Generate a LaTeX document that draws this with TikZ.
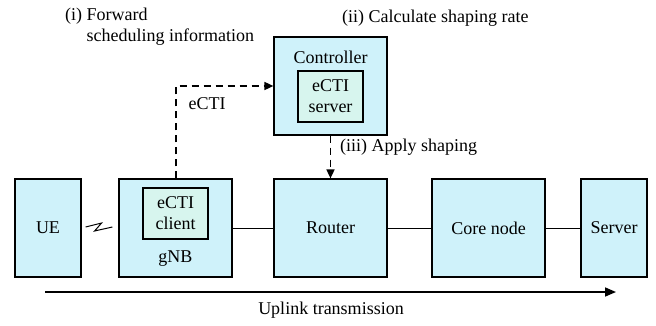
\documentclass[tikz,border=0pt]{standalone}
\usepackage{fontspec}
\setmainfont{Liberation Serif}
\usepackage{xcolor}
\usepackage{tikz}
\usetikzlibrary{arrows.meta}

\definecolor{boxfill}{RGB}{207,242,250}
\definecolor{innerfill}{RGB}{215,245,238}

\begin{document}
\begin{tikzpicture}[
  x=1pt, y=-1pt,
  every node/.style = {font=\fontsize{18}{21}\selectfont, inner sep=0pt},
  entity/.style   = {draw=black, fill=boxfill, line width=1.2pt,
                     minimum width=113pt, minimum height=98pt},
  smallent/.style = {entity, minimum width=66pt},
  inner/.style    = {draw=black, fill=innerfill, line width=1.2pt,
                     minimum width=65pt, minimum height=51pt, align=center},
  link/.style     = {line width=1pt},
  ctrlarr/.style  = {-{Triangle[length=9pt,width=8pt]}, dashed,
                     dash pattern=on 7pt off 5pt, line width=1.6pt},
  ularr/.style    = {-{Triangle[length=11pt,width=9pt]}, line width=1.6pt},
  lbl/.style      = {anchor=west, align=left},
]
\useasboundingbox (0,0) rectangle (656,326);

%% ── Data path boxes ───────────────────────────────────────────────
\node[smallent] (ue)     at (48,228)    {UE};
\node[entity]   (gnb)    at (175.5,228) {};
\node[inner]    (client) at (175.5,213.5) {eCTI\\client};
\node                    at (175.5,259) {gNB};
\node[entity]   (router) at (330.5,228) {Router};
\node[entity]   (core)   at (488.5,228) {Core node};
\node[smallent] (server) at (614,228)   {Server};

%% ── Controller ────────────────────────────────────────────────────
\node[entity]   (ctrl)   at (330.5,86)  {};
\node                    at (330.5,57)  {Controller};
\node[inner]    (srv)    at (330.5,96.5) {eCTI\\server};

%% ── Links ─────────────────────────────────────────────────────────
\draw[link] (gnb.east)    -- (router.west);
\draw[link] (router.east) -- (core.west);
\draw[link] (core.east)   -- (server.west);

% radio link
\draw[link, line join=miter]
  ([xshift=4pt,yshift=1pt]ue.east) -- ++(16,-4) -- ++(-7,8) -- ([xshift=-6pt,yshift=1pt]gnb.west);

%% ── eCTI signalling ───────────────────────────────────────────────
\draw[ctrlarr] ([xshift=0.5pt]gnb.north) |- (ctrl.west);
\draw[ctrlarr] (ctrl.south) -- (router.north);
\node (ecti) at (207,104) {eCTI};

%% ── Step annotations ──────────────────────────────────────────────
\node[lbl] (stepi)   at (65,27)  {(i) Forward\\\phantom{(i) }scheduling information};
\node[lbl] (stepii)  at (342,18) {(ii) Calculate shaping rate};
\node[lbl] (stepiii) at (340,147) {(iii) Apply shaping};

%% ── Uplink direction ──────────────────────────────────────────────
\coordinate (ulstart) at (45,292);
\coordinate (ulend)   at (616,292);
\draw[ularr] (ulstart) -- (ulend);
\node (ultext) at (331,310) {Uplink transmission};

\end{tikzpicture}
\end{document}
